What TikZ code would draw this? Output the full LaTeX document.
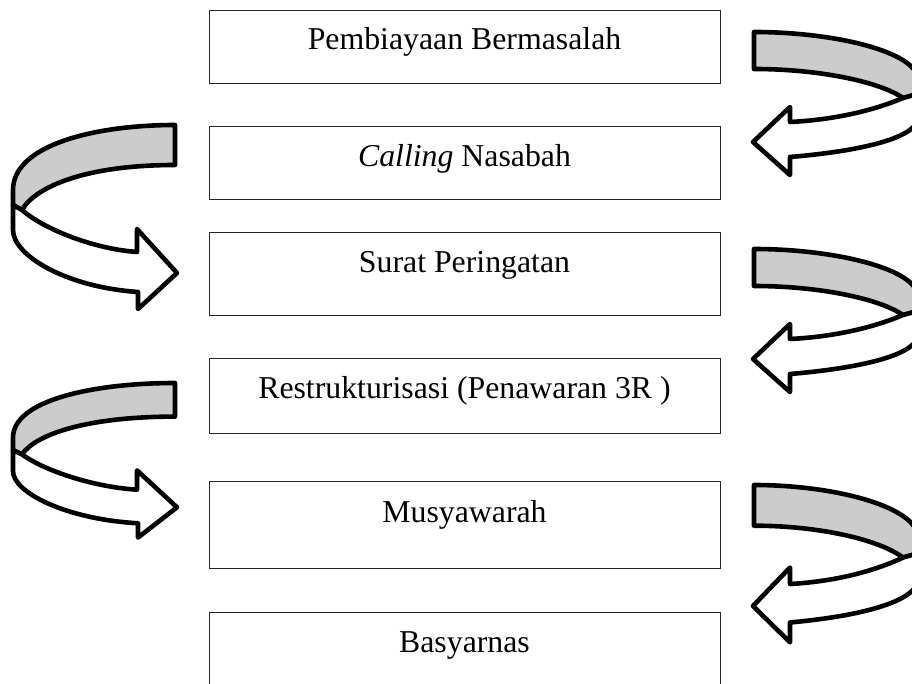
\documentclass[tikz,border=0pt]{standalone}
\usepackage{fontspec}
\setmainfont{Liberation Serif}
\definecolor{bandgray}{RGB}{204,204,204}
\tikzset{
  boxnode/.style={draw=black!85, line width=1.4pt, rectangle, minimum width=511pt, inner sep=0pt, anchor=north west},
  boxtext/.style={font=\fontsize{31.8}{38}\selectfont, anchor=base, inner sep=0pt},
  backband/.style={fill=bandgray, draw=black, line width=4.6pt, line join=round},
  frontband/.style={fill=white, draw=black, line width=4.6pt, line join=round},
}
\newcommand{\rloopshape}{%
  \draw[backband] (0,0) .. controls (81,0) and (164,20) .. (164,48) -- (164,62)
    -- (149,66)
    .. controls (126,50) and (66,37) .. (0,37) -- cycle;
  \draw[frontband] (149,66) .. controls (116,80) and (76,88) .. (36,90)
    -- (36,75) -- (-1,110) -- (36,143) -- (36,125)
    .. controls (96,120) and (164,108) .. (164,85) -- (164,62)
    -- (149,66) -- cycle;
}
\newcommand{\lloopshape}{%
  \draw[backband] (0,0) .. controls (-80,0) and (-162,20) .. (-162,65) -- (-162,80)
    -- (-153,85)
    .. controls (-140,62) and (-90,40) .. (0,40) -- cycle;
  \draw[frontband] (-153,85) .. controls (-130,105) and (-80,124) .. (-38,127)
    -- (-38,104) -- (2,148) -- (-37,184) -- (-37,167)
    .. controls (-110,162) and (-162,130) .. (-162,105) -- (-162,80)
    -- (-153,85) -- cycle;
}
\begin{document}
\begin{tikzpicture}[x=1pt,y=-1pt]
\useasboundingbox (0,0) rectangle (912,684);
\clip (0,0) rectangle (912,684);
\fill[white] (0,0) rectangle (912,684);

\node[boxnode, minimum height=73pt] (b1) at (209,10) {};
\node[boxnode, minimum height=73pt] (b2) at (209,126) {};
\node[boxnode, minimum height=83pt] (b3) at (209,232) {};
\node[boxnode, minimum height=75pt] (b4) at (209,358) {};
\node[boxnode, minimum height=87pt] (b5) at (209,481) {};
\node[boxnode, minimum height=90pt] (b6) at (209,612) {};

\node[boxtext] (t1) at (464.5,50) {Pembiayaan Bermasalah};
\node[boxtext] (t2) at (464.5,167) {\textit{Calling} Nasabah};
\node[boxtext] (t3) at (464.5,273) {Surat Peringatan};
\node[boxtext] (t4) at (464.5,398) {Restrukturisasi (Penawaran 3R )};
\node[boxtext] (t5) at (464.5,522) {Musyawarah};
\node[boxtext] (t6) at (464.5,652) {Basyarnas};

\begin{scope}[shift={(754,32)}]\rloopshape\end{scope}
\begin{scope}[shift={(754,249)}]\rloopshape\end{scope}
\begin{scope}[shift={(754,485)}, yscale=1.1]\rloopshape\end{scope}
\begin{scope}[shift={(175,125)}]\lloopshape\end{scope}
\begin{scope}[shift={(175,383)}, yscale=0.84]\lloopshape\end{scope}
\end{tikzpicture}
\end{document}
